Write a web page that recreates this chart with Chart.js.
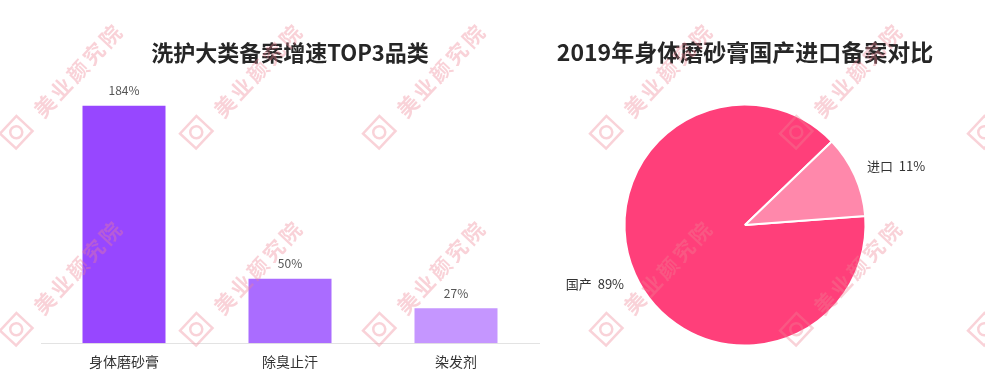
<!DOCTYPE html>
<html>
<head>
<meta charset="utf-8">
<script src="https://cdn.jsdelivr.net/npm/chart.js@4/dist/chart.umd.min.js"></script>
<style>
  html, body { margin: 0; padding: 0; background: #fff; }
  #wrap { position: relative; width: 985px; height: 389px; overflow: hidden; }
  .box { position: absolute; top: 0; height: 389px; }
  #left { left: 0; width: 580px; }
  #right { left: 505px; width: 480px; }
</style>
</head>
<body>
<div id="wrap">
  <div class="box" id="left"><canvas id="barChart"></canvas></div>
  <div class="box" id="right"><canvas id="pieChart"></canvas></div>
</div>
<script>
// bar chart data
const barCategories = ['身体磨砂膏', '除臭止汗', '染发剂'];
const barValues = [184, 50, 27];
const barColors = ['#9747ff', '#aa6cff', '#c596ff'];

// pie chart data
const pieLabels = ['国产', '进口'];
const pieValues = [89, 11];
const pieColors = ['#ff3f7a', '#ff88ab'];

const cjk = '"Noto Sans CJK SC", "Noto Sans", sans-serif';

// watermark anchors (page coordinates)
const markX = [17, 197, 380, 607, 797, 985];
const markY = [133, 330];

// value labels above bars
const barValuePlugin = {
    id: 'barValues',
    afterDatasetsDraw(chart) {
        const ctx = chart.ctx;
        const meta = chart.getDatasetMeta(0);
        ctx.save();
        ctx.font = '12px ' + cjk;
        ctx.fillStyle = '#555';
        ctx.textAlign = 'center';
        ctx.textBaseline = 'middle';
        meta.data.forEach((bar, i) => {
            ctx.fillText(barValues[i] + '%', bar.x, bar.y - 15);
        });
        ctx.restore();
    }
};

// outside labels for pie slices
const pieLabelPlugin = {
    id: 'pieLabels',
    afterDatasetsDraw(chart) {
        const ctx = chart.ctx;
        const meta = chart.getDatasetMeta(0);
        ctx.save();
        ctx.font = '13px ' + cjk;
        ctx.fillStyle = '#333';
        ctx.textBaseline = 'middle';
        meta.data.forEach((arc, i) => {
            const mid = (arc.startAngle + arc.endAngle) / 2;
            const r = arc.outerRadius + 24;
            const right = Math.cos(mid) >= 0;
            const x = arc.x + Math.cos(mid) * r + (right ? -10 : 11);
            const y = arc.y + Math.sin(mid) * r;
            ctx.textAlign = right ? 'left' : 'right';
            ctx.fillText(pieLabels[i] + '  ' + pieValues[i] + '%', x, y);
        });
        ctx.restore();
    }
};

// faint site watermark drawn over each chart
function watermarkPlugin(offsetX) {
    return {
        id: 'watermark',
        afterDraw(chart) {
            const ctx = chart.ctx;
            ctx.save();
            ctx.fillStyle = 'rgba(238,130,148,0.36)';
            ctx.strokeStyle = 'rgba(238,130,148,0.36)';
            ctx.lineWidth = 2.5;
            markX.forEach(mx => {
                markY.forEach(my => {
                    const x = mx - offsetX;
                    ctx.save();
                    ctx.translate(x, my);
                    ctx.rotate(-0.82);
                    // logo
                    ctx.strokeRect(-12, -12, 24, 22);
                    ctx.beginPath();
                    ctx.arc(0, -1, 6, 0, Math.PI * 2);
                    ctx.stroke();
                    // name
                    ctx.font = 'bold 21px ' + cjk;
                    ctx.letterSpacing = '3px';
                    ctx.textBaseline = 'middle';
                    ctx.textAlign = 'left';
                    ctx.fillText('美业颜究院', 28, 2);
                    ctx.restore();
                });
            });
            ctx.restore();
        }
    };
}

new Chart(document.getElementById('barChart').getContext('2d'), {
    type: 'bar',
    data: {
        labels: barCategories,
        datasets: [{
            data: barValues,
            backgroundColor: barColors,
            barPercentage: 0.5,
            categoryPercentage: 1
        }]
    },
    options: {
        responsive: true,
        maintainAspectRatio: false,
        animation: false,
        layout: { padding: { left: 41, right: 41, top: 0, bottom: 9 } },
        plugins: {
            legend: { display: false },
            tooltip: { enabled: false },
            title: {
                display: true,
                text: '洗护大类备案增速TOP3品类',
                color: '#262626',
                font: { size: 22, weight: 'bold', family: cjk },
                padding: { top: 39, bottom: 19.6 }
            }
        },
        scales: {
            y: {
                display: false,
                min: 0,
                max: 200
            },
            x: {
                grid: { display: false, drawTicks: false },
                border: { display: true, color: '#e3e3e3' },
                ticks: { color: '#333', padding: 10, font: { size: 14, family: cjk } }
            }
        }
    },
    plugins: [barValuePlugin, watermarkPlugin(0)]
});

new Chart(document.getElementById('pieChart').getContext('2d'), {
    type: 'pie',
    data: {
        labels: pieLabels,
        datasets: [{
            data: pieValues,
            backgroundColor: pieColors,
            borderColor: '#fff',
            borderWidth: 2,
            radius: 120.5
        }]
    },
    options: {
        responsive: true,
        maintainAspectRatio: false,
        animation: false,
        rotation: 85.7,
        layout: { padding: { left: 0, right: 0, top: 0, bottom: 45 } },
        plugins: {
            legend: { display: false },
            tooltip: { enabled: false },
            title: {
                display: true,
                text: '2019年身体磨砂膏国产进口备案对比',
                color: '#262626',
                font: { size: 23, weight: 'bold', family: cjk },
                padding: { top: 38.5, bottom: 40 }
            }
        }
    },
    plugins: [pieLabelPlugin, watermarkPlugin(505)]
});
</script>
</body>
</html>
